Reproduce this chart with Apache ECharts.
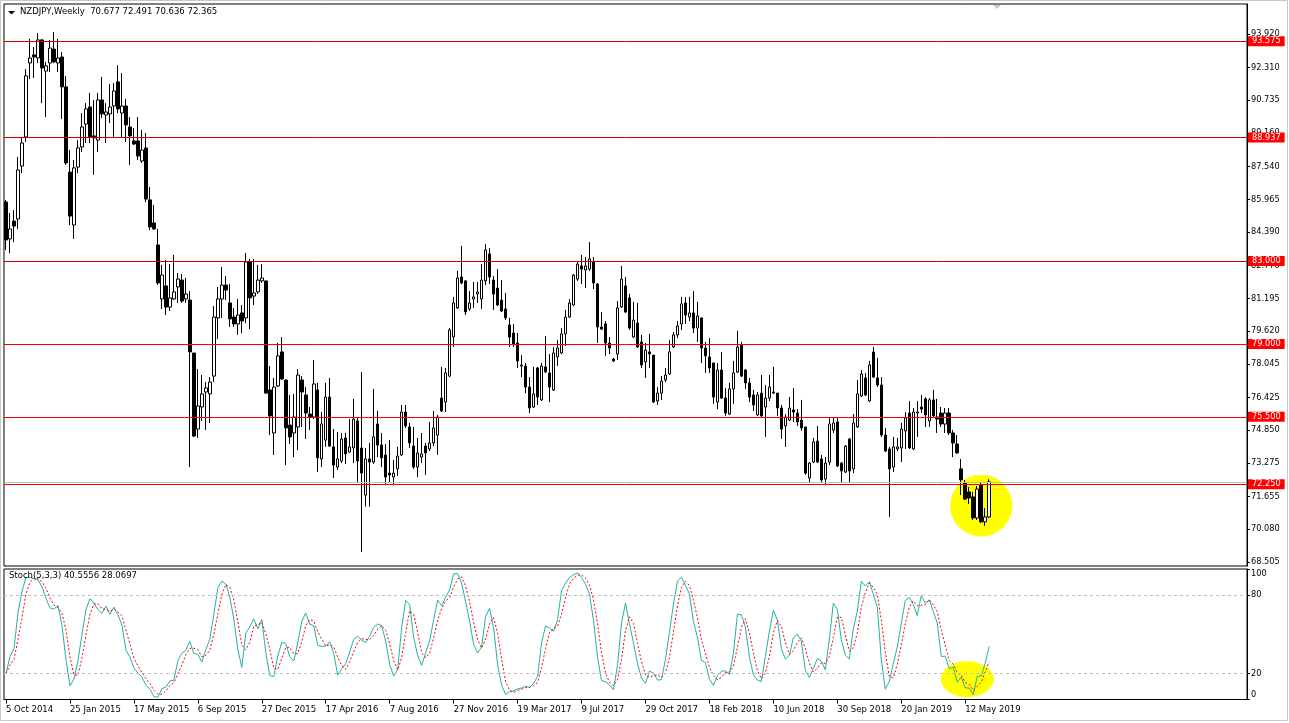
<!DOCTYPE html>
<html><head><meta charset="utf-8">
<script src="https://cdn.jsdelivr.net/npm/echarts@6/dist/echarts.min.js"></script>
<style>html,body{margin:0;padding:0;background:#fff}#c{width:1289px;height:723px}</style>
</head><body><div id="c"></div>
<script>
const headerText = 'NZDJPY,Weekly  70.677 72.491 70.636 72.365';
const stochHeader = 'Stoch(5,3,3) 40.5556 28.0697';

const opens = [
85.84,84.06,84.92,85.02,87.57,88.97,92.53,92.92,92.77,93.64,92.14,92.53,93.20,92.53,92.82,91.38,87.28,84.73,87.52,88.49,
89.59,90.41,89.02,88.82,90.75,90.03,90.08,90.46,91.62,90.12,90.46,89.45,88.78,88.78,87.81,88.44,85.94,84.83,83.77,81.17,
81.80,80.78,81.17,81.75,82.08,81.17,81.12,78.57,74.91,75.97,76.69,76.60,77.46,80.26,81.17,81.84,80.98,80.30,79.97,80.50,
80.26,82.95,81.31,81.51,82.04,82.04,76.79,74.72,76.98,78.62,77.27,75.10,74.72,75.01,77.27,76.55,75.63,75.49,76.79,73.47,
74.38,76.45,74.05,73.08,73.37,74.48,73.80,74.00,75.30,74.00,71.73,73.47,73.32,75.15,74.14,73.66,72.79,72.60,72.99,73.66,
75.73,75.01,74.09,73.08,73.56,74.09,73.95,74.24,74.62,76.40,76.21,77.46,79.34,80.74,82.23,82.04,80.69,81.17,81.41,81.17,
82.04,83.34,82.08,81.70,81.12,80.69,79.92,79.53,79.05,77.94,77.94,76.93,75.97,77.85,76.31,77.90,77.61,76.79,78.38,78.57,
79.49,80.30,80.88,82.13,82.76,82.57,82.61,82.95,81.89,79.82,79.97,79.05,78.28,78.52,80.79,81.80,81.22,79.34,80.01,79.10,
78.14,78.62,78.47,76.26,76.64,77.27,77.56,78.86,79.44,79.97,80.98,80.30,80.50,79.77,80.26,78.81,78.38,78.09,76.21,77.75,
76.40,75.63,76.84,77.65,78.96,77.75,77.13,76.55,75.59,76.64,75.97,76.40,76.69,76.64,75.92,75.06,75.34,75.83,75.68,75.34,
75.01,72.55,73.32,74.33,73.47,72.50,73.32,74.86,75.25,73.27,72.84,74.43,72.99,75.01,76.50,77.37,76.26,78.62,77.37,77.03,
74.62,73.95,73.08,73.95,74.00,74.82,75.68,73.95,75.68,75.97,76.36,75.30,76.31,75.49,75.68,75.15,75.68,74.72,74.19,72.99,
72.31,71.88,71.64,70.63,72.21,70.44,70.677];

const highs = [
85.94,85.31,85.45,88.01,88.97,92.24,93.69,93.30,93.97,93.69,92.58,93.64,94.02,93.69,93.06,91.91,88.34,87.86,88.82,90.12,
90.60,91.09,90.75,91.09,91.86,90.60,91.52,91.57,92.43,92.05,90.80,89.93,89.40,89.93,89.31,89.16,86.56,85.70,84.54,82.81,
83.05,82.85,83.29,82.42,82.37,82.18,81.55,78.57,77.80,77.51,77.17,77.41,80.83,81.75,82.71,82.28,81.89,80.74,81.17,80.88,
83.38,83.10,83.10,82.81,82.85,82.04,77.94,77.37,79.05,79.34,77.27,76.55,76.60,77.80,77.46,76.93,75.97,78.23,77.13,75.73,
77.13,77.37,74.91,74.77,74.72,74.72,75.39,76.36,75.44,77.65,74.00,74.24,76.84,75.78,74.72,74.19,74.38,73.42,74.05,76.07,
76.07,75.20,75.01,74.48,74.72,74.24,75.25,75.78,75.59,77.90,77.85,79.77,81.27,82.52,83.72,82.08,81.55,81.99,81.99,82.85,
83.82,83.62,82.28,82.61,82.08,81.46,80.26,79.97,79.53,78.47,78.09,77.41,77.90,77.90,78.09,79.39,78.52,78.86,79.20,79.77,
80.64,81.17,82.37,83.00,83.29,83.19,83.91,83.19,81.94,80.54,80.11,79.34,78.33,81.07,82.76,82.23,81.41,81.03,80.98,79.44,
79.05,79.49,78.47,76.93,77.46,77.85,79.20,79.58,80.11,81.27,81.27,81.27,81.55,81.03,80.26,79.10,79.29,78.09,78.09,78.62,
76.88,77.13,78.19,79.63,79.10,77.80,77.37,76.79,76.69,77.51,77.03,77.51,77.90,76.64,76.07,75.63,76.45,76.88,75.87,76.31,
75.01,73.32,74.48,75.06,73.66,73.56,75.49,75.49,75.49,73.32,74.14,74.48,75.63,77.27,77.75,77.61,78.19,78.86,78.33,77.41,
74.96,74.05,74.53,74.48,75.20,75.73,76.26,75.92,76.26,76.55,76.45,76.40,76.79,76.36,75.97,75.92,75.92,74.86,74.62,73.47,
72.46,72.12,71.88,72.17,72.31,71.11,72.491];

const lows = [
83.53,83.38,83.91,84.54,87.23,88.73,91.76,91.81,92.53,90.60,89.93,92.10,92.53,92.10,89.83,87.62,84.73,84.06,87.23,88.25,
88.68,88.68,87.14,88.25,89.88,88.68,89.64,88.97,90.12,88.97,88.73,87.62,88.58,87.86,87.72,85.84,84.49,84.49,81.84,80.69,
80.40,80.59,81.12,80.98,80.98,80.98,73.08,74.53,74.48,75.30,74.86,75.20,77.17,79.24,80.26,81.12,79.82,79.82,79.44,79.53,
80.01,79.72,80.88,81.41,81.94,76.60,74.62,73.66,76.93,77.27,73.18,74.19,73.56,73.90,75.01,74.43,74.86,75.39,72.84,73.08,
74.05,74.05,72.55,72.94,73.27,73.23,73.76,73.27,72.31,68.99,71.17,71.17,73.23,73.56,73.08,72.21,72.31,72.21,72.65,73.61,
74.96,74.00,72.99,72.60,73.27,72.70,73.85,74.09,73.66,75.73,75.73,77.41,78.86,80.69,81.89,80.40,80.59,80.74,80.98,80.69,
81.84,81.89,80.64,80.83,80.54,80.16,78.86,78.86,77.85,77.41,76.64,75.68,75.92,76.07,76.26,77.61,76.21,76.74,77.94,78.52,
78.91,80.26,80.83,82.04,81.89,81.70,82.52,81.65,79.05,79.68,78.43,78.52,78.14,78.23,80.74,80.50,79.68,79.29,78.81,77.85,
77.37,77.85,76.16,76.07,76.31,77.17,77.51,78.81,79.29,79.68,79.97,80.11,79.53,79.10,78.09,77.61,77.61,76.12,75.87,76.36,
75.54,75.59,76.12,77.61,77.41,76.84,76.21,75.78,75.54,75.50,74.53,76.26,76.60,75.54,74.43,74.05,75.30,75.25,75.06,74.82,
72.70,72.31,73.27,73.27,72.31,72.26,73.18,74.72,73.08,72.31,72.79,72.31,72.79,74.96,76.45,76.50,76.21,77.37,76.93,74.53,
73.81,70.68,72.84,73.85,73.32,73.95,73.95,73.90,74.53,75.68,75.01,75.01,75.49,74.72,75.01,74.72,74.62,73.56,73.71,71.73,
71.49,71.30,70.53,70.53,70.39,70.25,70.636];

const closes = [
84.01,84.54,84.68,87.38,88.68,91.91,92.77,92.82,93.64,92.29,92.39,93.25,92.58,92.77,91.38,87.72,85.16,87.48,88.44,89.45,
90.32,88.97,88.92,90.75,90.08,90.17,90.41,91.18,90.32,90.46,89.55,89.02,88.63,88.05,88.34,85.98,84.64,84.54,81.94,82.32,
80.78,81.22,81.51,82.13,81.07,81.41,78.62,74.57,76.02,76.60,76.89,77.17,80.30,81.17,81.84,81.60,80.21,79.97,80.40,80.11,
82.95,81.22,81.46,82.08,82.18,76.64,75.54,76.93,78.43,77.32,74.96,74.53,75.49,77.51,76.69,75.68,75.49,77.08,73.52,75.15,
76.45,74.09,73.18,73.47,74.43,73.71,74.05,75.39,73.37,72.79,73.47,73.32,74.53,74.14,73.52,72.60,72.70,72.79,73.61,75.73,
75.06,74.24,73.08,73.76,73.71,73.76,74.24,74.96,75.49,75.78,77.61,79.68,80.98,82.18,81.94,80.54,80.98,81.27,81.51,82.08,
83.53,82.23,81.41,80.88,80.59,80.26,79.34,79.00,78.19,77.99,76.93,75.92,76.60,76.45,77.94,77.66,76.93,78.57,78.81,79.49,
80.30,80.98,82.32,82.85,82.61,82.76,83.10,81.94,79.82,79.72,79.05,78.81,78.19,80.74,82.13,80.54,79.77,80.16,78.86,77.99,
78.71,78.52,76.21,76.64,77.22,77.51,78.62,79.44,79.87,80.93,80.40,80.50,79.77,80.35,78.81,78.43,77.85,76.45,77.75,76.40,
75.68,76.84,77.61,78.86,77.46,77.13,76.45,76.07,76.55,75.54,76.40,76.93,76.64,75.92,74.91,75.49,75.92,75.73,75.25,74.96,
72.79,73.27,74.29,73.32,72.46,73.27,75.15,75.20,73.13,72.89,74.09,72.89,75.20,76.60,77.56,76.55,77.99,77.41,77.03,74.62,
73.85,72.99,74.05,74.05,74.91,75.44,74.00,75.73,75.73,75.87,75.59,76.31,75.54,75.39,75.15,75.68,74.72,74.24,73.76,72.46,
71.54,71.59,70.63,72.02,70.44,70.68,72.365];

const dateTickLabels = ['5 Oct 2014','25 Jan 2015','17 May 2015','6 Sep 2015','27 Dec 2015','17 Apr 2016','7 Aug 2016',
  '27 Nov 2016','19 Mar 2017','9 Jul 2017','29 Oct 2017','18 Feb 2018','10 Jun 2018','30 Sep 2018','20 Jan 2019','12 May 2019'];
const barsPerDateTick = 16;
const priceTicks = [93.920,92.310,90.735,89.160,87.540,85.965,84.390,82.770,81.195,79.620,78.045,76.425,74.850,73.275,71.655,70.080,68.505];
const levelValues = [93.575,88.937,83.000,79.000,75.500,72.250];
const levelColors = ['#d00000','#d00000','#d00000','#ff0000','#ff0000','#ff0000'];
const stochTicks = [0,20,80,100];
const stochLevels = [20,80];
const priceHighlight = [244, 71.22];
const stochHighlight = [240, 15.6];

// Stochastic (5,3,3) computed from the OHLC arrays
function stochastic(kP, dP, slow) {
  const n = closes.length, num = [], den = [], K = [], D = [];
  for (let i = 0; i < n; i++) {
    let hh = -Infinity, ll = Infinity;
    for (let j = Math.max(0, i - kP + 1); j <= i; j++) { hh = Math.max(hh, highs[j]); ll = Math.min(ll, lows[j]); }
    num.push(closes[i] - ll); den.push(hh - ll);
    let sn = 0, sd = 0;
    for (let j = Math.max(0, i - slow + 1); j <= i; j++) { sn += num[j]; sd += den[j]; }
    K.push(sd > 0 ? 100 * sn / sd : 50);
    let s = 0, c = 0;
    for (let j = Math.max(0, i - dP + 1); j <= i; j++) { s += K[j]; c++; }
    D.push(s / c);
  }
  return { K, D };
}
const st = stochastic(5, 3, 3);

const SLOTS = 311;
const cats = Array.from({length: SLOTS}, (_, i) => String(i));
const showTick = (i) => i % barsPerDateTick === 0 && (i / barsPerDateTick) < dateTickLabels.length;
const candleData = opens.map((o, i) => [o, closes[i], lows[i], highs[i]]);

const FONT = 'DejaVu Sans';
const chart = echarts.init(document.getElementById('c'), null, {renderer: 'canvas'});
chart.setOption({
  animation: false,
  backgroundColor: '#ffffff',
  title: [
    {text: headerText, left: 20, top: 7, padding: 0, textStyle: {fontFamily: FONT, fontSize: 8.5, fontWeight: 'normal', color: '#000'}},
    {text: stochHeader, left: 9, top: 571, padding: 0, textStyle: {fontFamily: FONT, fontSize: 8.5, fontWeight: 'normal', color: '#000'}}
  ],
  graphic: [
    {type: 'rect', shape: {x: 0.5, y: 0.5, width: 1287, height: 720}, style: {fill: 'none', stroke: '#c8c8c8', lineWidth: 1}, z: -10},
    {type: 'polygon', shape: {points: [[8, 11], [15, 11], [11.5, 14.5]]}, style: {fill: '#000'}},
    {type: 'polygon', shape: {points: [[993, 5], [1001, 5], [997, 9]]}, style: {fill: '#c8c8c8'}}
  ],
  grid: [
    {left: 4, top: 4, width: 1243, height: 562, show: true, borderColor: '#000', borderWidth: 1, backgroundColor: '#fff'},
    {left: 4, top: 569, width: 1243, height: 130.5, show: true, borderColor: '#000', borderWidth: 1, backgroundColor: '#fff'}
  ],
  xAxis: [
    {type: 'category', gridIndex: 0, data: cats, boundaryGap: true,
     axisLine: {show: false}, axisTick: {show: false}, axisLabel: {show: false}, splitLine: {show: false}},
    {type: 'category', gridIndex: 1, data: cats, boundaryGap: true,
     axisLine: {show: true, lineStyle: {color: '#000', width: 1}},
     axisTick: {show: true, alignWithLabel: true, interval: (i) => showTick(i), length: 4, lineStyle: {color: '#000'}},
     axisLabel: {interval: (i) => showTick(i), formatter: (v, i) => dateTickLabels[Math.round(Number(v) / barsPerDateTick)] || '',
       align: 'left', margin: 6, color: '#000', fontFamily: FONT, fontSize: 8.5},
     splitLine: {show: false}}
  ],
  yAxis: [
    {type: 'value', gridIndex: 0, position: 'right', min: 68.316, max: 95.37, scale: true,
     axisLine: {show: true, lineStyle: {color: '#000'}},
     axisTick: {show: true, length: 3, customValues: priceTicks, lineStyle: {color: '#000'}},
     axisLabel: {customValues: priceTicks, formatter: (v) => v.toFixed(3), margin: 4, color: '#000', fontFamily: FONT, fontSize: 8.2},
     splitLine: {show: false}},
    {type: 'value', gridIndex: 1, position: 'right', min: 0, max: 100,
     axisLine: {show: true, lineStyle: {color: '#000'}},
     axisTick: {show: true, length: 3, customValues: stochTicks, lineStyle: {color: '#000'}},
     axisLabel: {customValues: stochTicks, margin: 4, color: '#000', fontFamily: FONT, fontSize: 8.2,
       formatter: (v) => v === 100 ? '{t|100}' : (v === 0 ? '{b|0}' : String(v)),
       rich: {t: {padding: [10, 0, 0, 0], fontFamily: FONT, fontSize: 8.2, color: '#000'},
              b: {padding: [0, 0, 10, 0], fontFamily: FONT, fontSize: 8.2, color: '#000'}}},
     splitLine: {show: false}}
  ],
  series: [
    {type: 'scatter', xAxisIndex: 0, yAxisIndex: 0, z: 1, silent: true,
     data: [priceHighlight], symbol: 'circle', symbolSize: 62, itemStyle: {color: '#ffff00', opacity: 1}},
    {type: 'scatter', xAxisIndex: 1, yAxisIndex: 1, z: 1, silent: true,
     data: [stochHighlight], symbol: 'circle', symbolSize: [53, 36], symbolOffset: [2, 0], itemStyle: {color: '#ffff00', opacity: 1}},
    {type: 'line', xAxisIndex: 1, yAxisIndex: 1, z: 0, data: [], silent: true,
     markLine: {silent: true, symbol: 'none', animation: false,
       lineStyle: {color: '#c0c0c0', type: [3, 3], width: 1},
       label: {show: false},
       data: stochLevels.map(v => ({yAxis: v}))}},
    {type: 'candlestick', xAxisIndex: 0, yAxisIndex: 0, z: 3, barWidth: 3, data: candleData,
     itemStyle: {color: '#ffffff', color0: '#000000', borderColor: '#000000', borderColor0: '#000000', borderColorDoji: '#000000', borderWidth: 1},
     markLine: {silent: true, symbol: 'none', animation: false,
       data: [{yAxis: closes[closes.length - 1], lineStyle: {color: '#c0c0c0', width: 1, type: 'solid'}, label: {show: false}}]
         .concat(levelValues.map((v, i) => ({
           yAxis: v,
           lineStyle: {color: levelColors[i], width: 1, type: 'solid'},
           label: {show: true, position: 'end', distance: 1, formatter: v.toFixed(3),
             color: '#fff', backgroundColor: '#ff0000', padding: [1, 4, 0, 4], lineHeight: 9,
             fontFamily: FONT, fontSize: 8.2}
         })))}},
    {type: 'line', xAxisIndex: 1, yAxisIndex: 1, z: 3, data: st.K, showSymbol: false, symbol: 'none',
     lineStyle: {color: '#20b2aa', width: 1}},
    {type: 'line', xAxisIndex: 1, yAxisIndex: 1, z: 3, data: st.D, showSymbol: false, symbol: 'none',
     lineStyle: {color: '#ff0000', width: 1, type: [2, 2]}}
  ]
});
</script>
</body></html>
